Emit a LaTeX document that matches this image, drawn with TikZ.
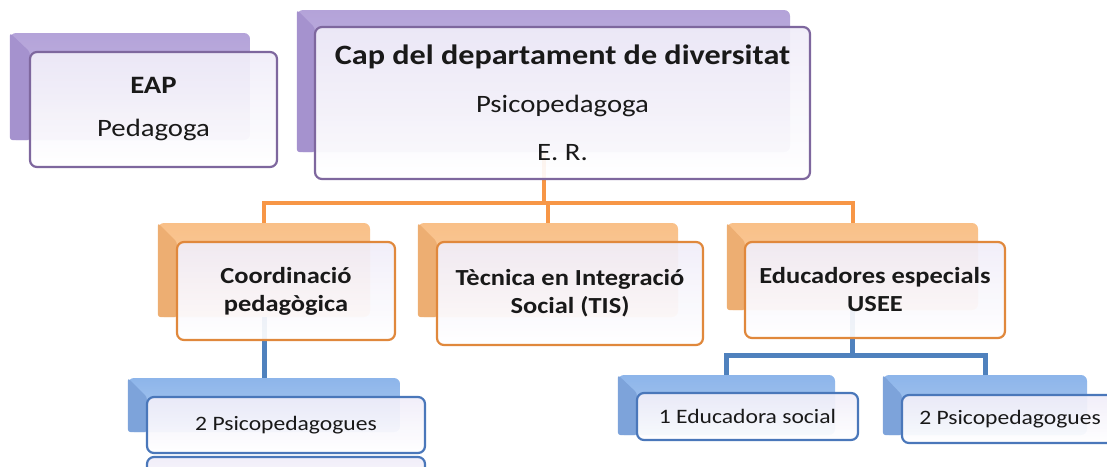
\documentclass[tikz,border=0pt]{standalone}
\usepackage{fontspec}
\setmainfont{Carlito}[FakeStretch=1.15]
\definecolor{pback}{HTML}{B4A3D9}
\definecolor{pbevel}{HTML}{A592CE}
\definecolor{pline}{HTML}{7E679E}
\definecolor{oback}{HTML}{F9C088}
\definecolor{obevel}{HTML}{EDAE72}
\definecolor{oline}{HTML}{E0883C}
\definecolor{oconn}{HTML}{F79646}
\definecolor{bback}{HTML}{8DB5EA}
\definecolor{bbevel}{HTML}{7DA3DA}
\definecolor{bline}{HTML}{4A77BA}
\definecolor{bconn}{HTML}{4F81BD}
\definecolor{ftop}{HTML}{F0EDF9}
\tikzset{
  backbox/.style={rounded corners=6pt, inner sep=0pt, top color=#1, bottom color=#1!70!white, draw=none},
  frontbox/.style={draw=#1, line width=2.2pt, rounded corners=7pt, inner sep=2pt, align=center,
     top color=ftop, bottom color=white, fill opacity=0.92, text opacity=1, text=black!90},
  conn/.style={line width=#1, line cap=butt},
}
\begin{document}
\begin{tikzpicture}[x=1pt,y=-1pt]
\useasboundingbox (0,0) rectangle (1107,466);
\clip (0,0) rectangle (1107,466);
% back boxes
\node[backbox=pback, minimum width=240, minimum height=107] (eapB) at (130,86.5) {};
\node[backbox=pback, minimum width=493, minimum height=142] (capB) at (543.5,81) {};
\node[backbox=oback, minimum width=212, minimum height=94] (coordB) at (264,270) {};
\node[backbox=oback, minimum width=260, minimum height=94] (tisB) at (548,270) {};
\node[backbox=oback, minimum width=251, minimum height=87] (eduB) at (852.5,266.5) {};
\node[backbox=bback, minimum width=272, minimum height=54] (psiB) at (264,405) {};
\node[backbox=bback, minimum width=217, minimum height=60] (socB) at (726.5,405) {};
\node[backbox=bback, minimum width=204, minimum height=60] (psiiB) at (985,405) {};
% top-left corners of the front boxes (used by the bevels)
\coordinate (eapFnw) at (30,52);
\coordinate (capFnw) at (315,28);
\coordinate (coordFnw) at (177,242);
\coordinate (tisFnw) at (437,242);
\coordinate (eduFnw) at (745,242);
\coordinate (psiFnw) at (147,397);
\coordinate (socFnw) at (637,393);
\coordinate (psiiFnw) at (902,395);
\fill[pbevel, rounded corners=3pt] (eapB.north west) -- (eapFnw) -- (eapFnw |- eapB.south) -- (eapB.south west) -- cycle;
\fill[pbevel, rounded corners=3pt] (capB.north west) -- (capFnw) -- (capFnw |- capB.south) -- (capB.south west) -- cycle;
\fill[obevel, rounded corners=3pt] (coordB.north west) -- (coordFnw) -- (coordFnw |- coordB.south) -- (coordB.south west) -- cycle;
\fill[obevel, rounded corners=3pt] (tisB.north west) -- (tisFnw) -- (tisFnw |- tisB.south) -- (tisB.south west) -- cycle;
\fill[obevel, rounded corners=3pt] (eduB.north west) -- (eduFnw) -- (eduFnw |- eduB.south) -- (eduB.south west) -- cycle;
\fill[bbevel, rounded corners=3pt] (psiB.north west) -- (psiFnw) -- (psiFnw |- psiB.south) -- (psiB.south west) -- cycle;
\fill[bbevel, rounded corners=3pt] (socB.north west) -- (socFnw) -- (socFnw |- socB.south) -- (socB.south west) -- cycle;
\fill[bbevel, rounded corners=3pt] (psiiB.north west) -- (psiiFnw) -- (psiiFnw |- psiiB.south) -- (psiiB.south west) -- cycle;
% connectors
\coordinate (obus) at (543,203);
\coordinate (bbus) at (852,355);
\draw[conn=4pt, oconn] (capB.south) -- (capB.south |- obus);
\draw[conn=4pt, oconn] (coordB.north) |- (eduB.north |- obus) -- (eduB.north);
\draw[conn=4pt, oconn] (tisB.north |- obus) -- (tisB.north);
\draw[conn=5pt, bconn] (coordB.south) -- (psiB.north);
\draw[conn=5pt, bconn] (eduB.south) -- (eduB.south |- bbus);
\draw[conn=5pt, bconn] (socB.north) |- (psiiB.north |- bbus) -- (psiiB.north);
% front boxes
\node[frontbox=pline, minimum width=247, minimum height=115, font=\fontsize{25}{43}\selectfont] (eap) at (153.5,109.5) {\textbf{EAP}\\Pedagoga};
\node[frontbox=pline, minimum width=495, minimum height=152, font=\fontsize{25}{48}\selectfont] (cap) at (562.5,103) {{\fontsize{28}{48}\selectfont\textbf{Cap del departament de diversitat}}\\Psicopedagoga\\E. R.};
\node[frontbox=oline, minimum width=218, minimum height=98, font=\fontsize{23}{28}\selectfont\bfseries] (coord) at (286,291) {Coordinació\\pedagògica};
\node[frontbox=oline, minimum width=266, minimum height=103, font=\fontsize{23}{28}\selectfont\bfseries] (tis) at (570,293.5) {Tècnica en Integració\\Social (TIS)};
\node[frontbox=oline, minimum width=260, minimum height=96, font=\fontsize{23}{28}\selectfont\bfseries] (edu) at (875,290) {Educadores especials\\USEE};
\node[frontbox=bline, minimum width=278, minimum height=56, font=\fontsize{20.5}{24}\selectfont] (psi) at (286,425) {2 Psicopedagogues};
\node[frontbox=bline, minimum width=278, minimum height=52] (psix) at (286,483) {};
\node[frontbox=bline, minimum width=221, minimum height=47, font=\fontsize{20.5}{24}\selectfont] (soc) at (747.5,416.5) {1 Educadora social};
\node[frontbox=bline, minimum width=216, minimum height=48, font=\fontsize{20.5}{24}\selectfont] (psii) at (1010,419) {2 Psicopedagogues};
\end{tikzpicture}
\end{document}
